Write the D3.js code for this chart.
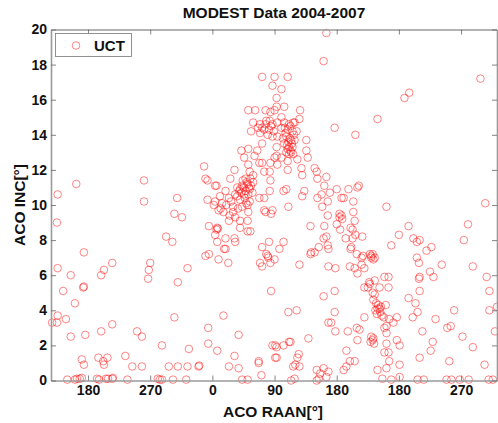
<!DOCTYPE html>
<html><head><meta charset="utf-8">
<script src="https://cdn.jsdelivr.net/npm/d3@7/dist/d3.min.js"></script>
<style>
html,body{margin:0;padding:0;background:#fff;}
svg{display:block;font-family:"Liberation Sans",Arial,Helvetica,sans-serif;}
</style></head>
<body><svg id="chart" width="498" height="423"></svg>
<script>
// ---- chart text ----
const chartTitle = "MODEST Data 2004-2007";
const xLabel = "ACO RAAN[°]";
const yLabel = "ACO INC[°]";
const legendLabel = "UCT";
// x axis is an unwrapped RAAN axis (degrees along the axis); labels wrap
const xTickValues = [180, 270, 360, 450, 540, 630, 720];
const xTickLabels = ["180", "270", "0", "90", "180", "180", "270"];
const xDomain = [126.4, 772];
const yTickValues = [0, 2, 4, 6, 8, 10, 12, 14, 16, 18, 20];
const yDomain = [0, 20];

// ---- UCT observations [RAAN (unwrapped deg), INC deg] ----
const sparseLeft = [
[136,10.6],[163,11.2],[261,11.4],[261,10.2],[309,10.4],[305,9.5],[316,9.3],
[135,9.0],[174,7.3],[136,6.4],[155,6.0],[203,6.3],[199,6.0],[215,6.7],[270,6.7],[268,6.3],[267,5.8],
[144,5.1],[173,5.3],[174,5.35],[161,4.4],[136,3.7],[135,3.3],[128,3.3],[148,3.5],[215,3.2],[199,2.8],
[176,2.6],[155,2.5],[251,2.8],[258,2.5],[287,2.0],[171,1.2],[174,0.9],[195,1.3],[202,1.1],[208,1.3],
[203,0.9],[234,1.4],[244,0.8],[258,0.8],
[150,0.05],[161,0.05],[164,0.1],[168,0.1],[171,0.15],[193,0.1],[196,0.05],[206,0.1],[209,0.1],[215,0.1],
[216,0.15],[237,0.05],[281,0.1],
[293,8.2],[302,7.9],[310,5.6],[324,6.4],[305,3.6],[326,1.8],[297,0.8],[310,0.8],[324,0.8],[340,0.8],
[341,0.85],[284,0.05],[303,0.05],[322,0.05],[287,0.05]
];
const nearZero = [
[348,12.2],[353,11.4],[366,11.1],
[354,3.0],[354,2.1],[367,1.7],[376,3.7],[398,2.6],[392,1.4],[384,0.8],[398,0.7],[403,0.05],[411,0.05],
[350,7.1],[355,7.2],[369,6.9],[383,6.7],[379,7.5],
[427,1.1],[447,2.0],[431,0.3],
[355,8.8],[367,8.7],[366,8.6],[368,8.65],[364,8.3],[379,8.1],[367,7.9],[377,7.5],[384,9.1],[400,9.1],
[411,9.1],[411,8.5],[392,8.1],[393,7.9],[400,8.7],
[353,10.3],[362,10.0],[369,9.7],[376,9.6],[390,9.9],[393,9.3],[411,10.0],
[435,9.7],[447,9.7],[432,7.6],[442,7.9],[440,7.1],[441,7.0],[438,7.2],[429,6.7],[432,6.5],[444,6.7],[445,5.1],
[412,9.6],[415,8.5],[457,7.5],[463,7.9],[486,6.6],[502,8.8],[503,7.3],[502,7.2],[514,7.6],
[470,3.9],[482,4.0],[451,2.0],[463,2.0],[473,2.2],[499,2.4],[427,1.0],[451,1.3],[480,0.9],[485,1.5],
[477,0.8],[474,0.0],[511,0.6],[516,0.4],[521,0.7],[528,0.5],[514,0.1],[525,0.2],
[470,9.9],[450,6.9],[508,7.3],[471,2.2],[453,1.9],[453,1.3],[483,1.3],[486,0.8],[479,0.1],[511,0.0],
[437,9.6],[445,9.5]
];
const risingBand = [
[350,11.5],[364,11.1],[386,11.5],[392,12.0],[402,13.1],[412,13.2],[406,12.7],[412,12.3],[421,12.8],
[425,13.1],[432,13.5],[428,12.4],[435,11.9],[419,11.7],[408,11.5],[411,11.2],[403,11.1],[399,10.8],
[396,10.5],[406,10.6],[414,10.9],[419,11.3],[400,10.3],[384,10.4],[379,10.8],[371,10.5],[364,10.2],
[374,10.1],[414,10.2],[428,10.4],[435,10.4],[443,10.8],[444,11.4],[443,11.9],[432,12.4],[444,12.4],
[414,11.9],
[405,11.0],[408,10.8],[410,11.3],[413,11.0],[407,10.4],[402,10.7],[416,11.1],[404,11.4],[409,10.1],
[400,10.9],[412,10.6],[415,11.5],[396,11.0],[418,10.7],
[380,10.0],[387,10.2],[393,10.6],[390,9.6],[385,9.4],[372,9.8],[397,9.8],[403,9.9]
];
const peakCluster = [
[432,17.3],[450,17.3],[469,17.3],[447,16.8],[460,16.6],[453,16.1],[453,15.6],[464,15.6],[412,15.4],
[422,15.4],[437,15.4],[444,15.3],[487,15.4],[486,14.9],[477,14.7],[419,14.7],[416,14.2],[429,14.6],
[432,14.4],[437,14.6],[442,14.3],[447,14.6],[429,14.1],[440,14.0],[447,13.9],[450,12.7],
[450,15.4],[460,15.0],[454,14.7],[464,14.7],[471,14.6],[479,14.7],[460,14.4],[469,14.3],[476,14.2],
[482,14.2],[454,13.9],[467,13.9],[474,13.7],[479,13.7],[464,13.5],[471,13.3],[469,13.2],[476,13.3],
[467,13.0],[474,13.0],[453,13.3],[453,12.8],[460,12.7],[483,12.6],[469,12.5],
[466,14.1],[472,13.8],[470,13.6],[475,13.5],[468,13.4],[473,13.1],[471,12.9],[477,12.9],[465,14.4],
[473,14.5],[478,14.0],[462,13.8],
[435,14.3],[445,14.5],[449,14.2],[438,14.8],[426,14.4],[443,14.8],
[496,13.7],[496,13.1],[498,12.7],
[469,12.0],[454,12.3],[489,12.1],[508,12.1],[511,11.9],[490,11.7],[512,11.5],[525,11.6],[522,11.1],
[540,10.9],[530,10.7],[557,10.9],[570,11.0],[550,10.4],[564,10.2],[463,10.8],[467,10.9],[490,10.5],
[512,10.4],[518,10.6],[527,10.2],[493,10.8],[572,11.1],[547,10.4]
];
const fallingBand = [
[519,9.9],[527,9.4],[522,8.8],[525,8.2],[521,8.1],[527,7.7],[528,7.5],[528,6.5],[538,6.4],
[544,9.5],[548,9.2],[540,8.9],[545,8.6],[560,8.7],[553,8.1],[567,8.3],[544,9.3],[547,9.4],
[564,9.6],[566,9.1],[563,8.6],[577,8.2],[563,8.1],
[561,7.6],[569,7.2],[576,7.0],[590,7.1],[595,7.0],[592,7.2],[576,6.6],[566,6.4],[580,6.4],[570,6.1],
[559,6.5],[560,7.5],[590,7.0],[588,7.2],[593,6.9],[578,7.1],
[587,5.6],[585,5.3],[580,5.3],[595,5.7],[609,5.9],[592,5.0],[595,4.9],[602,5.3],[588,5.5],
[593,4.6],[600,4.3],[603,3.9],[596,4.0],[611,4.3],[608,3.6],[599,4.1],[605,3.7],
[597,4.4],[602,4.1],[604,4.2],[598,3.8],
[537,5.1],[521,4.8],[537,3.9],[528,3.3],[532,3.3],[538,2.8],[556,2.8],[569,3.0],[573,2.9],[580,3.6],
[570,2.3],[554,1.7],[590,2.5],[592,2.3],[593,2.4],[609,3.0],[609,1.6],[589,2.2],[594,2.1],
[554,0.8],[559,1.1],[566,1.1],[550,0.6],[599,0.6],[606,0.1]
];
const sparseRight = [
[525,19.8],[521,18.2],[537,14.4],[567,14.0],[599,14.9],[638,16.1],[645,16.4],[748,17.2],[755,10.1],
[612,9.9],[644,8.8],[630,8.3],[619,7.7],[651,8.1],[660,8.0],[656,7.9],[670,7.4],[677,7.6],[656,7.0],
[659,6.7],[692,6.6],[724,8.0],[730,8.9],[737,6.5],
[615,5.9],[615,5.3],[659,5.8],[660,5.9],[675,6.2],[680,5.9],[660,5.1],[644,4.7],[654,4.4],[657,3.9],
[650,3.6],[627,3.6],
[757,5.9],[761,5.1],[772,4.2],[761,4.0],[710,4.0],[683,3.5],[700,3.0],[705,3.1],[664,2.8],[769,2.8],
[722,2.5],[737,1.9],[679,2.2],[676,1.7],[660,1.3],[703,1.1],[754,0.9],[631,2.0],[627,2.3],[615,1.6],
[616,1.1],[631,0.9],[612,0.7],
[619,0.05],[657,0.05],[666,0.05],[699,0.05],[706,0.05],[718,0.05],[731,0.05],[760,0.05],[766,0.05],
[631,0.2],
[616,3.5],[612,3.1],[622,3.3],[612,2.7],[612,2.1]
];

const groups = [sparseLeft, nearZero, risingBand, peakCluster, fallingBand, sparseRight];
const points = groups.flat();

// ---- drawing ----
const svg = d3.select("#chart");
const plot = {left: 51, right: 497, top: 29.5, bottom: 380.5};
const x = d3.scaleLinear().domain(xDomain).range([plot.left, plot.right]);
const y = d3.scaleLinear().domain(yDomain).range([plot.bottom, plot.top]);

const axisColor = "#9a9a9a";

// points
svg.append("g").selectAll("circle").data(points).join("circle")
  .attr("cx", d => x(d[0])).attr("cy", d => y(d[1])).attr("r", 3.8)
  .attr("fill", "none").attr("stroke", "#ff0000").attr("stroke-width", 0.8).attr("stroke-opacity", 0.6);

function styleAxis(g){
  g.select(".domain").attr("stroke", axisColor).attr("stroke-width", 1.6);
  g.selectAll(".tick line").attr("stroke", "#666").attr("stroke-width", 0.8);
  g.selectAll(".tick text").attr("fill", "#111").attr("font-size", 14).attr("font-weight", "bold")
   .attr("font-family", "'Liberation Sans',Arial,sans-serif");
}
const fmt = d => xTickLabels[xTickValues.indexOf(d)];
svg.append("g").attr("transform", `translate(0,${plot.bottom})`)
  .call(d3.axisBottom(x).tickValues(xTickValues).tickFormat(fmt).tickSizeInner(-5).tickSizeOuter(0).tickPadding(5))
  .call(styleAxis);
svg.append("g").attr("transform", `translate(0,${plot.top})`)
  .call(d3.axisTop(x).tickValues(xTickValues).tickFormat("").tickSizeInner(-5).tickSizeOuter(0))
  .call(styleAxis);
svg.append("g").attr("transform", `translate(${plot.left},0)`)
  .call(d3.axisLeft(y).tickValues(yTickValues).tickFormat(d3.format("d")).tickSizeInner(-5).tickSizeOuter(0).tickPadding(4))
  .call(styleAxis);
svg.append("g").attr("transform", `translate(${plot.right},0)`)
  .call(d3.axisRight(y).tickValues(yTickValues).tickFormat("").tickSizeInner(-5).tickSizeOuter(0))
  .call(styleAxis);

// title & labels
svg.append("text").attr("x", (plot.left + plot.right) / 2).attr("y", 18)
  .attr("text-anchor", "middle").attr("font-size", 15.5).attr("font-weight", "bold").attr("fill", "#111")
  .text(chartTitle);
svg.append("text").attr("x", 273).attr("y", 417)
  .attr("text-anchor", "middle").attr("font-size", 15.5).attr("font-weight", "bold").attr("fill", "#111")
  .text(xLabel);
svg.append("text").attr("transform", `translate(25,${(plot.top + plot.bottom) / 2}) rotate(-90)`)
  .attr("text-anchor", "middle").attr("font-size", 15.5).attr("font-weight", "bold").attr("fill", "#111")
  .text(yLabel);

// legend
const lg = svg.append("g");
lg.append("rect").attr("x", 55.5).attr("y", 33.5).attr("width", 76).attr("height", 23)
  .attr("fill", "#fff").attr("stroke", "#777").attr("stroke-width", 0.8);
lg.append("circle").attr("cx", 76).attr("cy", 45.5).attr("r", 3.8)
  .attr("fill", "none").attr("stroke", "#ff0000").attr("stroke-width", 0.8).attr("stroke-opacity", 0.6);
lg.append("text").attr("x", 94).attr("y", 51).attr("font-size", 15).attr("font-weight", "bold")
  .attr("fill", "#111").text(legendLabel);
</script></body></html>
